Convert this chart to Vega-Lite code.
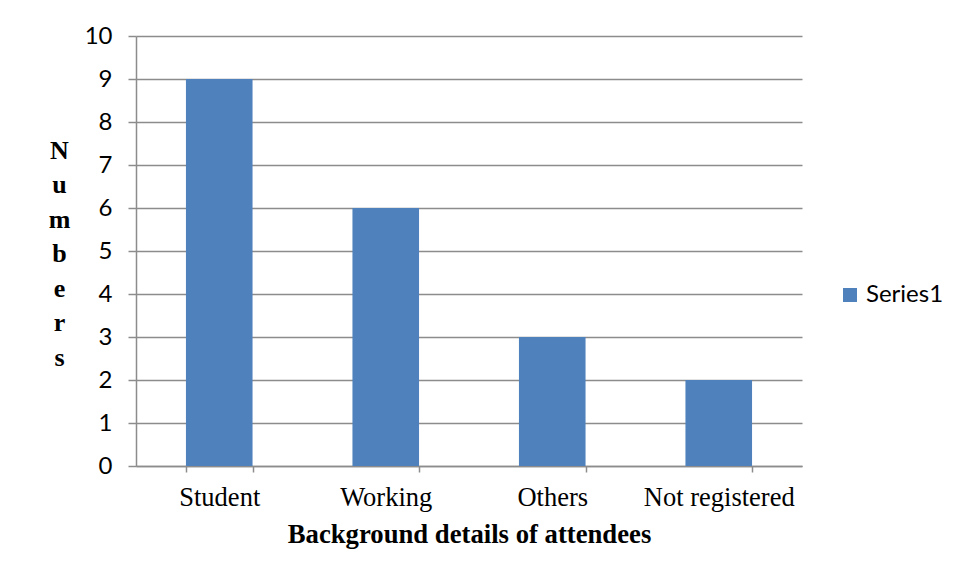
{
  "$schema": "https://vega.github.io/schema/vega-lite/v6.json",
  "autosize": "none",
  "width": 666,
  "height": 430,
  "padding": {"left": 136, "top": 36, "right": 158, "bottom": 112},
  "background": "white",
  "config": {
    "view": {"stroke": null},
    "axis": {
      "gridColor": "#8c8c8c",
      "gridWidth": 1.5,
      "domainColor": "#8c8c8c",
      "domainWidth": 1.5,
      "tickColor": "#8c8c8c",
      "tickWidth": 1.5,
      "labelColor": "black",
      "titleColor": "black"
    }
  },
  "data": {
    "values": [
      {"category": "Student", "value": 9, "series": "Series1"},
      {"category": "Working", "value": 6, "series": "Series1"},
      {"category": "Others", "value": 3, "series": "Series1"},
      {"category": "Not registered", "value": 2, "series": "Series1"}
    ]
  },
  "mark": "bar",
  "encoding": {
    "x": {
      "field": "category",
      "type": "nominal",
      "sort": null,
      "scale": {"paddingInner": 0.6, "paddingOuter": 0.3},
      "axis": {
        "title": "Background details of attendees",
        "titleFont": "Liberation Serif",
        "titleFontSize": 26.7,
        "titleFontWeight": "bold",
        "titlePadding": 11,
        "labelFont": "Liberation Serif",
        "labelFontSize": 26.5,
        "labelFontWeight": "normal",
        "labelAngle": 0,
        "labelPadding": 12,
        "tickBand": "extent",
        "tickSize": 6,
        "grid": false
      }
    },
    "y": {
      "field": "value",
      "type": "quantitative",
      "scale": {"domain": [0, 10], "nice": false},
      "axis": {
        "title": ["N", "u", "m", "b", "e", "r", "s"],
        "titleFont": "Liberation Serif",
        "titleFontSize": 26,
        "titleFontWeight": "bold",
        "titleAngle": 0,
        "titleAlign": "center",
        "titleBaseline": "middle",
        "titleLineHeight": 34.5,
        "titleX": -77,
        "titleY": 114,
        "labelFont": "Lato",
        "labelFontSize": 24,
        "labelPadding": 16,
        "labelOverlap": false,
        "tickSize": 8,
        "values": [0, 1, 2, 3, 4, 5, 6, 7, 8, 9, 10],
        "grid": true
      }
    },
    "color": {
      "field": "series",
      "type": "nominal",
      "scale": {"range": ["#4f81bd"]},
      "legend": {
        "title": null,
        "orient": "none",
        "legendX": 702,
        "legendY": 247,
        "padding": 0,
        "symbolType": "square",
        "symbolSize": 196,
        "symbolStrokeWidth": 0,
        "labelFont": "Lato",
        "labelFontSize": 24,
        "labelOffset": 4
      }
    }
  }
}
